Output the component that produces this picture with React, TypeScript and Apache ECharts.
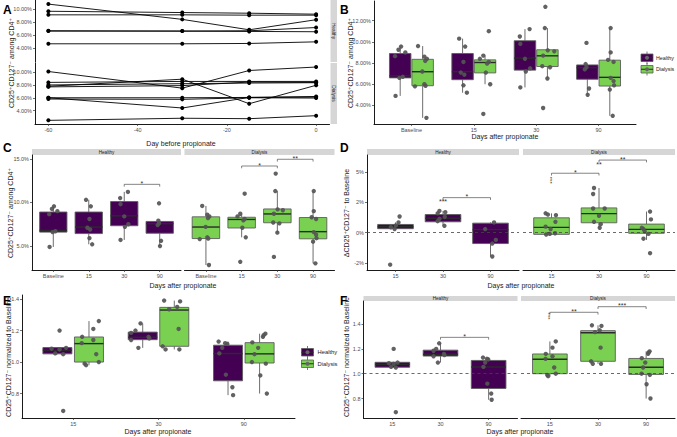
import React, { useEffect, useRef } from "react";
import * as echarts from "echarts";

const FONT = "Liberation Sans, Arial, Helvetica, DejaVu Sans, sans-serif";
const HEALTHY_COLOR = "#440154";
const DIALYSIS_COLOR = "#7AD151";
const LBL = "#4d4d4d";

// ---------- Panel A ----------
const aDays = [-60, -30, -15, 0];
const aDayTicks = [-60, -40, -20, 0];
const aHealthy = [
  [10.8, 8.45, 6.85, 8.4],
  [9.7, 9.5, 9.4, 9.25],
  [9.15, 9.15, 9.1, 9.1],
  [6.7, 6.65, 6.7, 7.2],
  [6.65, 6.65, 6.6, 6.55],
  [4.7, 4.7, 4.75, 5.0],
];
const aDialysis = [
  [10.1, 7.5, 10.26, 10.8],
  [7.8, 8.9, 5.07, 7.95],
  [8.4, 8.55, 8.55, 8.55],
  [8.0, 8.2, 8.3, 8.35],
  [7.7, 7.9, 8.45, 8.4],
  [6.0, 6.0, 6.05, 6.2],
  [5.8, 5.75, 6.0, 5.95],
  [6.0, 4.4, 6.05, 6.1],
  [2.47, 2.8, 2.73, 3.2],
];

// ---------- Panels B & C (percent) ----------
const timeLabels = ["Baseline", "15", "30", "90"];
const postLabels = ["15", "30", "90"];
// [min, q1, median, q3, max]
const pctHealthyBox = [
  [4.9, 6.6, 6.8, 8.9, 9.55],
  [5.2, 6.43, 7.18, 8.9, 10.3],
  [5.7, 7.33, 8.46, 10.1, 11.2],
  [5.0, 6.47, 7.56, 7.82, 7.9],
];
const pctHealthyPts = [
  [9.55, 9.25, 9.0, 8.65, 6.7, 6.6, 4.9],
  [10.3, 9.55, 8.1, 7.1, 6.9, 5.9, 5.2],
  [11.2, 10.5, 9.8, 8.4, 7.5, 7.2, 5.7],
  [9.9, 7.9, 7.6, 7.4, 5.6, 5.0],
];
const pctHealthyJit = [
  [0.05, -0.1, 0.3, -0.3, 0.15, -0.05, -0.27],
  [-0.2, 0.15, 0.05, -0.1, 0.1, 0.05, 0.25],
  [0.27, -0.3, -0.27, 0.0, 0.3, 0.05, -0.27],
  [-0.05, -0.1, -0.05, -0.15, 0.1, 0.02],
];
const pctDialysisBox = [
  [2.83, 5.86, 7.18, 8.35, 9.6],
  [6.0, 7.07, 8.05, 8.3, 8.7],
  [6.54, 7.67, 8.68, 9.25, 11.3],
  [3.02, 5.83, 6.65, 8.27, 11.3],
];
const pctDialysisPts = [
  [9.6, 8.6, 8.4, 8.2, 7.2, 6.0, 5.85, 5.8, 2.83],
  [11.0, 8.7, 8.4, 8.1, 7.95, 7.1, 6.0, 3.2],
  [13.3, 11.3, 9.2, 9.1, 8.7, 7.7, 7.6, 6.54, 3.76],
  [11.3, 9.0, 8.3, 8.1, 6.6, 6.3, 5.9, 5.5, 3.02],
];
const pctDialysisJit = [
  [-0.27, 0.1, 0.25, 0.15, -0.02, 0.1, 0.17, -0.45, 0.22],
  [0.22, -0.1, -0.3, 0.22, 0.12, 0.05, 0.3, -0.1],
  [-0.12, -0.15, 0.02, 0.4, -0.25, -0.3, 0.15, 0.0, -0.25],
  [0.05, 0.05, -0.1, 0.22, 0.05, 0.22, 0.25, 0.0, 0.17],
];

// ---------- Panel D (delta) ----------
const dHealthyBox = [
  [0.3, 0.33, 0.49, 0.68, 0.85],
  [0.57, 0.9, 1.2, 1.5, 1.8],
  [-1.97, -0.9, 0.25, 0.79, 0.85],
];
const dHealthyPts = [
  [1.34, 0.85, 0.6, 0.45, 0.3, -2.65],
  [1.8, 1.7, 1.6, 1.3, 1.15, 0.95, 0.57],
  [0.85, 0.3, -0.6, -0.9, -1.97],
];
const dHealthyJit = [
  [0.23, 0.17, 0.02, -0.26, -0.05, -0.3],
  [-0.2, 0.13, -0.3, 0.1, -0.2, -0.3, 0.08],
  [0.2, -0.3, 0.3, 0.1, 0.1],
];
const dDialysisBox = [
  [-0.2, -0.14, 0.44, 1.23, 1.6],
  [0.4, 0.82, 1.58, 2.05, 3.7],
  [-0.6, -0.05, 0.27, 0.71, 1.75],
];
const dDialysisPts = [
  [1.6, 1.5, 1.45, 0.9, 0.5, 0.3, -0.05, -0.1, -0.15],
  [3.7, 3.2, 2.0, 2.0, 1.4, 0.9, 0.7, 0.4],
  [1.75, 1.1, 0.4, 0.3, 0.1, -0.1, -0.5, -1.7],
];
const dDialysisJit = [
  [-0.33, -0.2, 0.25, 0.22, -0.33, -0.05, 0.2, -0.1, -0.3],
  [-0.28, -0.33, -0.33, 0.32, 0.0, -0.28, 0.1, 0.04],
  [0.2, 0.25, -0.26, -0.17, -0.1, 0.11, -0.17, 0.2],
];
const dTicks = [-2.5, 0, 2.5, 5];
const dTickLabels = ["-2%", "0%", "2%", "5%"];

// ---------- Panels E & F (normalized) ----------
const nHealthyBox = [
  [1.05, 1.052, 1.075, 1.092, 1.095],
  [1.09, 1.142, 1.157, 1.19, 1.245],
  [0.79, 0.881, 1.054, 1.107, 1.13],
];
const nHealthyPts = [
  [1.2, 1.09, 1.085, 1.08, 1.055, 1.05, 0.69],
  [1.245, 1.2, 1.185, 1.16, 1.15, 1.14, 1.09],
  [1.13, 1.12, 1.115, 1.09, 1.055, 0.92, 0.84, 0.79],
];
const nHealthyJit = [
  [0.15, 0.6, -0.4, 0.15, -0.15, 0.4, 0.4],
  [-0.15, -0.5, -0.8, 0.4, 0.45, -0.8, -0.3],
  [-0.65, -0.2, -0.05, -0.4, -0.6, -0.15, 0.3, 0.35],
];
const nDialysisBox = [
  [0.98, 1.0, 1.117, 1.159, 1.26],
  [1.08, 1.1, 1.33, 1.347, 1.39],
  [0.8, 0.994, 1.052, 1.123, 1.18],
];
const nDialysisPts = [
  [1.26, 1.21, 1.16, 1.14, 1.12, 1.05, 1.0, 0.99, 0.98],
  [1.39, 1.385, 1.35, 1.335, 1.21, 1.1, 1.08, 1.08],
  [1.18, 1.17, 1.16, 1.125, 1.09, 1.05, 1.0, 0.99, 0.915, 0.8],
];
const nDialysisJit = [
  [0.68, 0.3, -0.47, 0.3, -0.5, 0.5, 0.68, -0.3, -0.2],
  [-0.7, 0.4, 0.2, -0.35, 0.3, -0.8, -0.6, 0.35],
  [0.4, 0.28, 0.23, -0.5, -0.1, -0.35, -0.53, 0.43, 0.05, 0.5],
];

// ---------- significance annotations ----------
const cBrackets = [
  { facet: 0, x1: 3, x2: 4, y: 12.07, label: "*" },
  { facet: 1, x1: 2, x2: 3, y: 14.17, label: "*" },
  { facet: 1, x1: 3, x2: 4, y: 14.94, label: "**" },
];
const dBrackets = [
  { facet: 0, x1: 2, x2: 3, y: 2.9, label: "*" },
  { facet: 1, x1: 1, x2: 2, y: 4.92, label: "*" },
  { facet: 1, x1: 2, x2: 3, y: 6.01, label: "**" },
];
const dStars = [
  { facet: 0, x: 2, y: 2.6, label: "***", vertical: false },
  { facet: 1, x: 1, y: 4.35, label: "***", vertical: true },
  { facet: 1, x: 2, y: 5.68, label: "**", vertical: false },
];
const fBrackets = [
  { facet: 0, x1: 2, x2: 3, y: 1.293, label: "*" },
  { facet: 1, x1: 1, x2: 2, y: 1.495, label: "**" },
  { facet: 1, x1: 2, x2: 3, y: 1.54, label: "***" },
];
const fStars = [{ facet: 1, x: 1, y: 1.465, label: "***", vertical: true }];

// ---------- helpers ----------
function pickLabel(ticks: number[], labels: string[]) {
  return (v: number) => {
    const i = ticks.findIndex((t) => Math.abs(t - v) < 1e-6);
    return i >= 0 ? labels[i] : "";
  };
}

function mkXAxis(gridIndex: number, min: number, max: number, ticks: number[] | null, labels: string[] | null) {
  const show = !!ticks;
  return {
    type: "value",
    gridIndex,
    min,
    max,
    show: true,
    axisLine: { show, onZero: false, lineStyle: { color: "#000", width: 0.9 } },
    axisTick: { show, length: 2, customValues: ticks || [], lineStyle: { color: "#333", width: 0.7 } },
    axisLabel: {
      show,
      customValues: ticks || [],
      formatter: ticks && labels ? pickLabel(ticks, labels) : "",
      fontSize: 5.5,
      color: LBL,
      margin: 3,
      fontFamily: FONT,
    },
    splitLine: { show: false },
  };
}

function mkYAxis(gridIndex: number, min: number, max: number, ticks: number[] | null, labels: string[] | null) {
  const show = !!ticks;
  return {
    type: "value",
    gridIndex,
    min,
    max,
    axisLine: { show, onZero: false, lineStyle: { color: "#000", width: 0.9 } },
    axisTick: { show, length: 2, customValues: ticks || [], lineStyle: { color: "#333", width: 0.7 } },
    axisLabel: {
      show,
      customValues: ticks || [],
      formatter: ticks && labels ? pickLabel(ticks, labels) : "",
      fontSize: 5.5,
      color: LBL,
      margin: 3,
      fontFamily: FONT,
    },
    splitLine: { show: false },
  };
}

function boxSeries(axis: number, boxes: number[][], centers: number[], hw: number, color: string) {
  return {
    type: "custom",
    xAxisIndex: axis,
    yAxisIndex: axis,
    silent: true,
    z: 2,
    data: boxes.map((b, i) => [centers[i], ...b]),
    renderItem: (_p: any, api: any) => {
      const x = api.value(0);
      const lo = api.value(1), q1 = api.value(2), med = api.value(3), q3 = api.value(4), hi = api.value(5);
      const pLo = api.coord([x, lo]);
      const pQ1 = api.coord([x, q1]);
      const pQ3 = api.coord([x, q3]);
      const pHi = api.coord([x, hi]);
      const tl = api.coord([x - hw, q3]);
      const br = api.coord([x + hw, q1]);
      const ml = api.coord([x - hw, med]);
      const mr = api.coord([x + hw, med]);
      const stroke = "#5c5c5c";
      return {
        type: "group",
        children: [
          { type: "line", shape: { x1: pHi[0], y1: pHi[1], x2: pQ3[0], y2: pQ3[1] }, style: { stroke, lineWidth: 0.9 } },
          { type: "line", shape: { x1: pQ1[0], y1: pQ1[1], x2: pLo[0], y2: pLo[1] }, style: { stroke, lineWidth: 0.9 } },
          {
            type: "rect",
            shape: { x: tl[0], y: tl[1], width: br[0] - tl[0], height: br[1] - tl[1] },
            style: { fill: color, stroke, lineWidth: 0.9 },
          },
          { type: "line", shape: { x1: ml[0], y1: ml[1], x2: mr[0], y2: mr[1] }, style: { stroke: "#2a2a2a", lineWidth: 1.4 } },
        ],
      };
    },
  };
}

function pointSeries(axis: number, pts: number[][], jit: number[][], centers: number[], spread: number, extra: any = {}) {
  const data: number[][] = [];
  pts.forEach((arr, i) => arr.forEach((v, j) => data.push([centers[i] + jit[i][j] * spread, v])));
  return {
    type: "scatter",
    xAxisIndex: axis,
    yAxisIndex: axis,
    silent: true,
    z: 3,
    symbol: "circle",
    symbolSize: 4.4,
    itemStyle: { color: "#555555", opacity: 0.92 },
    data,
    ...extra,
  };
}

function bracketSeries(axis: number, items: { x1: number; x2: number; y: number; label: string }[]) {
  return {
    type: "custom",
    xAxisIndex: axis,
    yAxisIndex: axis,
    silent: true,
    z: 4,
    clip: false,
    data: items.map((b) => [b.x1, b.x2, b.y]),
    renderItem: (p: any, api: any) => {
      const p1 = api.coord([api.value(0), api.value(2)]);
      const p2 = api.coord([api.value(1), api.value(2)]);
      return {
        type: "group",
        children: [
          {
            type: "polyline",
            shape: { points: [[p1[0], p1[1] + 2.3], [p1[0], p1[1]], [p2[0], p2[1]], [p2[0], p2[1] + 2.3]] },
            style: { stroke: "#333", lineWidth: 0.6, fill: null },
          },
          {
            type: "text",
            x: (p1[0] + p2[0]) / 2,
            y: p1[1] - 0.8,
            style: { text: items[p.dataIndex].label, fontSize: 7, fontFamily: FONT, fill: "#333", align: "center", verticalAlign: "middle" },
          },
        ],
      };
    },
  };
}

function starSeries(axis: number, items: { x: number; y: number; label: string; vertical: boolean }[]) {
  return {
    type: "custom",
    xAxisIndex: axis,
    yAxisIndex: axis,
    silent: true,
    z: 4,
    clip: false,
    data: items.map((s) => [s.x, s.y]),
    renderItem: (p: any, api: any) => {
      const it = items[p.dataIndex];
      const c = api.coord([api.value(0), api.value(1)]);
      return {
        type: "text",
        x: c[0],
        y: c[1],
        rotation: it.vertical ? Math.PI / 2 : 0,
        style: {
          text: it.label,
          fontSize: it.vertical ? 6 : 7,
          fontFamily: FONT,
          fill: "#333",
          align: "center",
          verticalAlign: "middle",
        },
      };
    },
  };
}

function dashedRef(axis: number, y: number) {
  return {
    type: "line",
    xAxisIndex: axis,
    yAxisIndex: axis,
    silent: true,
    data: [],
    markLine: {
      silent: true,
      symbol: "none",
      label: { show: false },
      lineStyle: { type: [3, 3], color: "#444", width: 0.8 },
      data: [{ yAxis: y }],
    },
  };
}

function txt(x: number, y: number, text: string, size: number, opts: any = {}) {
  return {
    type: "text",
    x,
    y,
    rotation: opts.rotation || 0,
    style: {
      text,
      fontSize: size,
      fontFamily: FONT,
      fontWeight: opts.bold ? "bold" : "normal",
      fill: opts.fill || "#1a1a1a",
      align: opts.align || "center",
      verticalAlign: opts.verticalAlign || "middle",
    },
    silent: true,
  };
}

function strip(x: number, y: number, w: number, h: number, text: string, vertical = false) {
  return [
    { type: "rect", shape: { x, y, width: w, height: h }, style: { fill: "#d6d6d6" }, silent: true },
    txt(x + w / 2, y + h / 2, text, vertical ? 4.8 : 4.6, { rotation: vertical ? -Math.PI / 2 : 0 }),
  ];
}

function legendKey(x: number, y: number, color: string, label: string, gap = 16, size = 5.8) {
  return [
    { type: "line", shape: { x1: x + 6, y1: y - 2.5, x2: x + 6, y2: y + 10 }, style: { stroke: "#5c5c5c", lineWidth: 0.8 }, silent: true },
    { type: "rect", shape: { x, y, width: 12, height: 7.5 }, style: { fill: color, stroke: "#5c5c5c", lineWidth: 0.8 }, silent: true },
    { type: "line", shape: { x1: x, y1: y + 3.75, x2: x + 12, y2: y + 3.75 }, style: { stroke: "#2a2a2a", lineWidth: 1 }, silent: true },
    { type: "circle", shape: { cx: x + 6, cy: y + 3.75, r: 2 }, style: { fill: "#666" }, silent: true },
    txt(x + gap, y + 3.75, label, size, { align: "left" }),
  ];
}

const Y_PCT = "CD25\u207ACD127\u207B among CD4\u207A";
const Y_DELTA = "\u0394CD25\u207ACD127\u207B to Baseline";
const Y_NORM = "CD25\u207ACD127\u207B normalized to Baseline";
const X_AFTER = "Days after propionate";

function buildOption() {
  const grids = [
    { left: 35, top: 0, width: 294.5, height: 62 },
    { left: 35, top: 63, width: 294.5, height: 61 },
    { left: 374, top: 1, width: 262, height: 123 },
    { left: 32, top: 155, width: 149, height: 115 },
    { left: 184.5, top: 155, width: 150, height: 115 },
    { left: 367, top: 155, width: 152, height: 115 },
    { left: 523, top: 155, width: 152, height: 115 },
    { left: 22, top: 295, width: 273, height: 123 },
    { left: 363.5, top: 301, width: 154, height: 117 },
    { left: 521, top: 301, width: 154, height: 117 },
  ];

  const pos4 = [1, 2, 3, 4];
  const pos3 = [1, 2, 3];
  const pctTicksA = [4, 6, 8, 10];
  const pctTicksB = [4, 6, 8, 10, 12];
  const pctTicksC = [5, 10, 15];
  const nTicks = [0.8, 1.0, 1.2, 1.4];

  const xAxes = [
    mkXAxis(0, -63, 3, null, null),
    mkXAxis(1, -63, 3, aDayTicks, aDayTicks.map(String)),
    mkXAxis(2, 0.4, 4.6, pos4, timeLabels),
    mkXAxis(3, 0.4, 4.6, pos4, timeLabels),
    mkXAxis(4, 0.4, 4.6, pos4, timeLabels),
    mkXAxis(5, 0.4, 3.6, pos3, postLabels),
    mkXAxis(6, 0.4, 3.6, pos3, postLabels),
    mkXAxis(7, 0.4, 3.6, pos3, postLabels),
    mkXAxis(8, 0.4, 3.6, pos3, postLabels),
    mkXAxis(9, 0.4, 3.6, pos3, postLabels),
  ];
  const yAxes = [
    mkYAxis(0, 1.9, 11.43, pctTicksA, pctTicksA.map((v) => v.toFixed(2) + "%")),
    mkYAxis(1, 1.9, 11.43, pctTicksA, pctTicksA.map((v) => v.toFixed(2) + "%")),
    mkYAxis(2, 2.25, 13.85, pctTicksB, pctTicksB.map((v) => v.toFixed(2) + "%")),
    mkYAxis(3, 2.26, 15.43, pctTicksC, pctTicksC.map((v) => v.toFixed(1) + "%")),
    mkYAxis(4, 2.26, 15.43, null, null),
    mkYAxis(5, -3.09, 6.43, dTicks, dTickLabels),
    mkYAxis(6, -3.09, 6.43, null, null),
    mkYAxis(7, 0.645, 1.4255, nTicks, nTicks.map((v) => v.toFixed(1))),
    mkYAxis(8, 0.643, 1.586, nTicks, nTicks.map((v) => v.toFixed(1))),
    mkYAxis(9, 0.643, 1.586, null, null),
  ];

  const series: any[] = [];
  // Panel A
  const lineStyle = (axis: number, vals: number[]) => ({
    type: "line",
    xAxisIndex: axis,
    yAxisIndex: axis,
    silent: true,
    symbol: "circle",
    symbolSize: 4,
    itemStyle: { color: "#000" },
    lineStyle: { color: "#000", width: 0.9 },
    data: aDays.map((d, i) => [d, vals[i]]),
  });
  aHealthy.forEach((l) => series.push(lineStyle(0, l)));
  aDialysis.forEach((l) => series.push(lineStyle(1, l)));

  // Panel B (dodged)
  const bOff = 0.18;
  const bHW = 0.172;
  series.push(boxSeries(2, pctHealthyBox, pos4.map((p) => p - bOff), bHW, HEALTHY_COLOR));
  series.push(boxSeries(2, pctDialysisBox, pos4.map((p) => p + bOff), bHW, DIALYSIS_COLOR));
  series.push(pointSeries(2, pctHealthyPts, pctHealthyJit, pos4.map((p) => p - bOff), bHW * 1.6));
  series.push(pointSeries(2, pctDialysisPts, pctDialysisJit, pos4.map((p) => p + bOff), bHW * 1.6));

  // Panel C (faceted)
  const cHW = 0.385;
  series.push(boxSeries(3, pctHealthyBox, pos4, cHW, HEALTHY_COLOR));
  series.push(pointSeries(3, pctHealthyPts, pctHealthyJit, pos4, cHW));
  series.push(boxSeries(4, pctDialysisBox, pos4, cHW, DIALYSIS_COLOR));
  series.push(pointSeries(4, pctDialysisPts, pctDialysisJit, pos4, cHW));
  series.push(bracketSeries(3, cBrackets.filter((b) => b.facet === 0)));
  series.push(bracketSeries(4, cBrackets.filter((b) => b.facet === 1)));

  // Panel D
  const dHW = 0.375;
  series.push(dashedRef(5, 0));
  series.push(dashedRef(6, 0));
  series.push(boxSeries(5, dHealthyBox, pos3, dHW, HEALTHY_COLOR));
  series.push(pointSeries(5, dHealthyPts, dHealthyJit, pos3, dHW));
  series.push(boxSeries(6, dDialysisBox, pos3, dHW, DIALYSIS_COLOR));
  series.push(pointSeries(6, dDialysisPts, dDialysisJit, pos3, dHW));
  series.push(bracketSeries(5, dBrackets.filter((b) => b.facet === 0)));
  series.push(bracketSeries(6, dBrackets.filter((b) => b.facet === 1)));
  series.push(starSeries(5, dStars.filter((s) => s.facet === 0)));
  series.push(starSeries(6, dStars.filter((s) => s.facet === 1)));

  // Panel E (dodged)
  const eOff = 0.185;
  const eHW = 0.17;
  series.push(boxSeries(7, nHealthyBox, pos3.map((p) => p - eOff), eHW, HEALTHY_COLOR));
  series.push(boxSeries(7, nDialysisBox, pos3.map((p) => p + eOff), eHW, DIALYSIS_COLOR));
  series.push(pointSeries(7, nHealthyPts, nHealthyJit, pos3.map((p) => p - eOff), eHW));
  series.push(pointSeries(7, nDialysisPts, nDialysisJit, pos3.map((p) => p + eOff), eHW));

  // Panel F
  const fHW = 0.36;
  series.push(dashedRef(8, 1));
  series.push(dashedRef(9, 1));
  series.push(boxSeries(8, nHealthyBox, pos3, fHW, HEALTHY_COLOR));
  series.push(pointSeries(8, nHealthyPts, nHealthyJit, pos3, fHW * 0.5));
  series.push(boxSeries(9, nDialysisBox, pos3, fHW, DIALYSIS_COLOR));
  series.push(pointSeries(9, nDialysisPts, nDialysisJit, pos3, fHW * 0.5));
  series.push(bracketSeries(8, fBrackets.filter((b) => b.facet === 0)));
  series.push(bracketSeries(9, fBrackets.filter((b) => b.facet === 1)));
  series.push(starSeries(9, fStars));

  const graphics: any[] = [
    // panel letters
    txt(3, 10, "A", 12, { bold: true, align: "left", fill: "#000" }),
    txt(340, 10, "B", 12, { bold: true, align: "left", fill: "#000" }),
    txt(3, 148, "C", 12, { bold: true, align: "left", fill: "#000" }),
    txt(340, 148, "D", 12, { bold: true, align: "left", fill: "#000" }),
    txt(3, 301, "E", 12, { bold: true, align: "left", fill: "#000" }),
    txt(340, 301, "F", 12, { bold: true, align: "left", fill: "#000" }),
    // strips
    ...strip(330.5, 0, 6.5, 62, "Healthy", true),
    ...strip(330.5, 63, 6.5, 61, "Dialysis", true),
    ...strip(32, 149, 149, 6, "Healthy"),
    ...strip(184.5, 149, 150, 6, "Dialysis"),
    ...strip(367, 149, 152, 6, "Healthy"),
    ...strip(523, 149, 152, 6, "Dialysis"),
    ...strip(363.5, 296, 154, 5, "Healthy"),
    ...strip(521, 296, 154, 5, "Dialysis"),
    // axis titles
    txt(181, 143, "Day before propionate", 7),
    txt(11, 63, Y_PCT, 7, { rotation: Math.PI / 2 }),
    txt(505, 136, X_AFTER, 7),
    txt(350, 63, Y_PCT, 7, { rotation: Math.PI / 2 }),
    txt(183, 285, X_AFTER, 7),
    txt(10, 213, Y_PCT, 7, { rotation: Math.PI / 2 }),
    txt(521, 285, X_AFTER, 7),
    txt(346, 213, Y_DELTA, 7, { rotation: Math.PI / 2 }),
    txt(158, 431, X_AFTER, 7),
    txt(8, 357, Y_NORM, 7, { rotation: Math.PI / 2 }),
    txt(520, 431, X_AFTER, 7),
    txt(346, 357, Y_NORM, 7, { rotation: Math.PI / 2 }),
    // legends
    ...legendKey(641, 54, HEALTHY_COLOR, "Healthy", 15, 5.3),
    ...legendKey(641, 65.5, DIALYSIS_COLOR, "Dialysis", 15, 5.3),
    ...legendKey(301.5, 348.5, HEALTHY_COLOR, "Healthy"),
    ...legendKey(301.5, 360, DIALYSIS_COLOR, "Dialysis"),
  ];

  return {
    animation: false,
    backgroundColor: "#fff",
    grid: grids.map((g) => ({ ...g, containLabel: false })),
    xAxis: xAxes,
    yAxis: yAxes,
    series,
    graphic: graphics,
  };
}

export default function App() {
  const ref = useRef<HTMLDivElement>(null);
  useEffect(() => {
    if (!ref.current) return;
    const chart = echarts.init(ref.current, null, { renderer: "svg" });
    chart.setOption(buildOption() as any);
    return () => chart.dispose();
  }, []);
  return (
    <div
      ref={ref}
      style={{ position: "absolute", left: 0, top: 0, width: 677, height: 437, background: "#fff" }}
    />
  );
}
